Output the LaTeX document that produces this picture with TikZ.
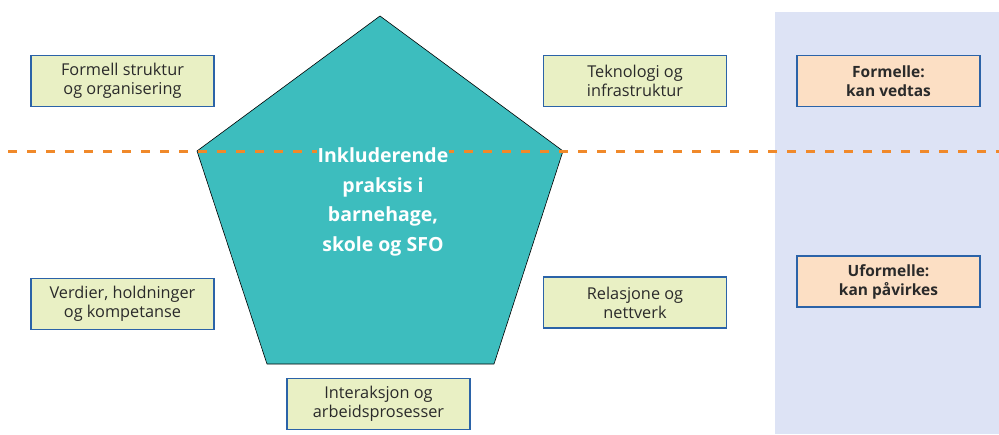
\documentclass[tikz,border=0pt]{standalone}
\usepackage{fontspec}
\setmainfont{Open Sans}
\definecolor{boxfill}{HTML}{E9F0C4}
\definecolor{boxedge}{HTML}{2B63A8}
\definecolor{orfill}{HTML}{FCDFC4}
\definecolor{panel}{HTML}{DDE3F5}
\definecolor{teal}{HTML}{3DBDBE}
\definecolor{dashor}{HTML}{F0892A}
\definecolor{txt}{HTML}{2A2A2A}
\begin{document}
\begin{tikzpicture}[x=1pt,y=-1pt,
  factor/.style={draw=boxedge,line width=1.4pt,fill=boxfill,minimum width=183pt,minimum height=51pt,
    align=center,inner sep=0pt,text=txt,font=\fontsize{16.3}{19}\selectfont},
  kind/.style={factor,fill=orfill,font=\fontsize{15.5}{19}\selectfont\bfseries}]
\useasboundingbox (0,0) rectangle (999,434);
\fill[panel] (775,12) rectangle (999,434);
\coordinate (pt) at (380,16);
\coordinate (pr) at (563,151);
\coordinate (pbr) at (494,364);
\coordinate (pbl) at (267,364);
\coordinate (pl) at (197,151);
\draw[fill=teal,line width=0.6pt] (pt) -- (pr) -- (pbr) -- (pbl) -- (pl) -- cycle;
\coordinate (dl) at (8,151.5);
\coordinate (dr) at (999,151.5);
\draw[dashor,line width=3.2pt,dash pattern=on 9pt off 10pt] (dl) -- (dr);
\node[fill=teal,text=white,align=center,inner sep=1pt,font=\fontsize{19.5}{29.5}\selectfont\bfseries] (center) at (383,202)
  {Inkluderende\\praksis i\\barnehage,\\skole og SFO};
\node[factor] (fs) at (122.5,81) {Formell struktur\\og organisering};
\node[factor] (ti) at (635,81) {Teknologi og\\infrastruktur};
\node[factor] (vh) at (122.5,304) {Verdier, holdninger\\og kompetanse};
\node[factor] (rn) at (635,302.5) {Relasjone og\\nettverk};
\node[factor] (ia) at (378.5,404) {Interaksjon og\\arbeidsprosesser};
\node[kind] (fo) at (888.5,81) {Formelle:\\kan vedtas};
\node[kind] (uf) at (888.5,281.5) {Uformelle:\\kan påvirkes};
\end{tikzpicture}
\end{document}
